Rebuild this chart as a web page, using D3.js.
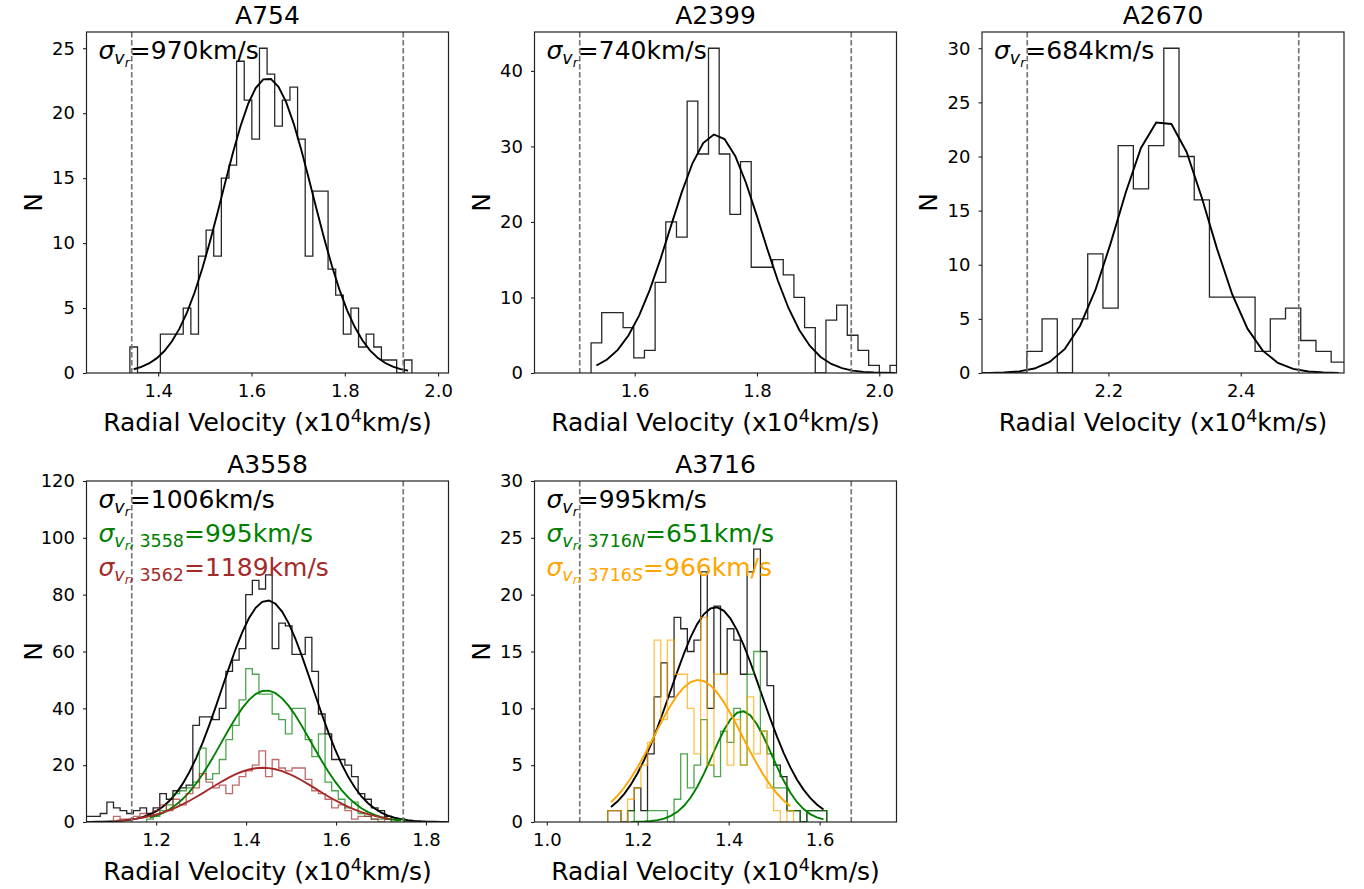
<!DOCTYPE html>
<html>
<head>
<meta charset="utf-8">
<script src="https://cdn.jsdelivr.net/npm/d3@7"></script>
<style>
  body { margin: 0; background: #fff; }
  svg text { font-family: "DejaVu Sans", sans-serif; }
</style>
</head>
<body>
<svg id="chart" width="1364" height="889"></svg>
<script>
// velocities are in units of 10^4 km/s

const clusters = ["A754", "A2399", "A2670", "A3558", "A3716"];
const sigmaKms = [970, 740, 684, 1006, 995];
const meanV = [1.6343, 1.7322, 2.2825, 1.4476, 1.371];
const peakN = [22.7, 31.6, 23.4, 78, 18.9];
const yMax = [26.25, 45.15, 31.5, 120, 30];
const yTicks = [
    [0, 5, 10, 15, 20, 25],
    [0, 10, 20, 30, 40],
    [0, 5, 10, 15, 20, 25, 30],
    [0, 20, 40, 60, 80, 100, 120],
    [0, 5, 10, 15, 20, 25, 30]
];
const xTicks = [
    [1.4, 1.6, 1.8, 2.0],
    [1.6, 1.8, 2.0],
    [2.2, 2.4],
    [1.2, 1.4, 1.6, 1.8],
    [1.0, 1.2, 1.4, 1.6]
];

// histogram bins: first edge + width for each cluster
const binStart = [1.3393, 1.5287, 1.9847, 1.0317, 1.1339];
const binWidth = [0.01634, 0.01746, 0.0230, 0.0147, 0.0146];

const a754Counts = [2, 0, 0, 0, 3, 3, 3, 5, 3, 9, 11, 9, 15, 16, 24, 21, 18, 25, 23, 19, 21, 22, 18, 9,
    14, 14, 8, 6, 3, 5, 2, 3, 2, 1, 1, 0, 1];
const a2399Counts = [4, 8, 8, 6, 2, 3, 12, 20, 18, 36, 29, 43, 29, 21, 28, 14, 14, 15, 13, 10, 6, 0, 7, 9,
    5, 3, 1, 0, 1];
const a2670Counts = [1, 0, 0, 0, 2, 5, 0, 5, 11, 6, 21, 17, 21, 30, 20, 16, 7, 7, 7, 2, 5, 6, 3, 2, 1];
const a3558Counts = [2, 2, 2, 3, 7, 5, 4, 3, 4, 5, 3, 5, 10, 8, 11, 12, 13, 34, 37, 37, 36, 40, 53, 57,
    61, 80, 85, 82, 87, 61, 70, 69, 59, 59, 65, 53, 38, 31, 22, 22, 20, 16, 10, 8, 5, 4, 2, 1, 1,
    0, 0, 0, 0, 0, 0, 0];
const a3716Counts = [1, 1, 0, 1, 3, 1, 6, 11, 14, 11, 18, 17, 15, 16, 22, 10, 19, 13, 17, 16, 13, 22, 24,
    15, 12, 5, 4, 1, 1, 0, 1, 1, 1];

// sub-clusters (bins shared with parent, offset = index of first bin)
const a3558SubNames = ["3558", "3562"];
const a3558SubSigma = [995, 1189];
const a3558SubMean = [1.445, 1.437];
const a3558SubPeak = [46.3, 19.1];
const a3558SubOffset = [10, 5];
const a3558SubColor = ["green", "brown"];
const a3558GreenCounts = [1, 2, 4, 6, 10, 11, 12, 14, 26, 15, 17, 22, 29, 34, 43, 54, 52, 45, 45, 38, 36,
    31, 40, 40, 29, 23, 31, 14, 11, 8, 5, 7, 3, 2, 1, 1, 1, 0, 1];
const a3558RedCounts = [2, 1, 1, 2, 3, 2, 4, 6, 4, 8, 6, 10, 12, 17, 14, 12, 13, 10, 13, 16, 18, 20, 25,
    16, 22, 19, 18, 19, 19, 15, 11, 10, 8, 5, 6, 4, 1, 2, 2, 1, 0, 1];

const a3716SubNames = ["3716N", "3716S"];
const a3716SubSigma = [651, 966];
const a3716SubMean = [1.4295, 1.333];
const a3716SubPeak = [9.75, 12.5];
const a3716SubOffset = [3, 0];
const a3716SubColor = ["green", "orange"];
const a3716GreenCounts = [1, 0, 0, 1, 1, 1, 0, 2, 6, 3, 5, 9, 5, 4, 8, 7, 10, 5, 13, 15, 8, 6, 3, 3, 1,
    1, 0, 1, 1, 1];
const a3716OrangeCounts = [1, 1, 0, 2, 3, 5, 7, 16, 9, 16, 13, 13, 10, 6, 18, 5, 13, 13, 5, 9, 5, 11, 6,
    8, 3, 1, 0, 1];

// ---- build panel descriptions ----
const mainCounts = [a754Counts, a2399Counts, a2670Counts, a3558Counts, a3716Counts];
const subCounts = { 3: [a3558GreenCounts, a3558RedCounts], 4: [a3716GreenCounts, a3716OrangeCounts] };
const subInfo = {
    3: { names: a3558SubNames, sigma: a3558SubSigma, mean: a3558SubMean, peak: a3558SubPeak, offset: a3558SubOffset, color: a3558SubColor },
    4: { names: a3716SubNames, sigma: a3716SubSigma, mean: a3716SubMean, peak: a3716SubPeak, offset: a3716SubOffset, color: a3716SubColor }
};

const panels = clusters.map((name, i) => {
    const sets = [{ counts: mainCounts[i], offset: 0, color: "black", mu: meanV[i], sigma: sigmaKms[i] / 1e4, amp: peakN[i] }];
    const labels = [{ sub: null, kms: sigmaKms[i], color: "black" }];
    if (subInfo[i]) {
        const s = subInfo[i];
        s.names.forEach((n, k) => {
            sets.push({ counts: subCounts[i][k], offset: s.offset[k], color: s.color[k], mu: s.mean[k], sigma: s.sigma[k] / 1e4, amp: s.peak[k] });
            labels.push({ sub: n, kms: s.sigma[k], color: s.color[k] });
        });
    }
    return { name, i, sets, labels };
});

// ---- layout ----
const svg = d3.select("#chart");
const colX = [86.5, 534.5, 982];
const rowY = [32, 481];
const pw = 362, ph = 341;

function sigmaText(g, x, y, sub, kms, color) {
    const t = g.append("text").attr("x", x).attr("y", y).attr("fill", color).style("font-size", "25px");
    t.append("tspan").text("σ").style("font-style", "italic");
    t.append("tspan").text("v").style("font-style", "italic").style("font-size", "17.5px").attr("dy", 5);
    t.append("tspan").text("r").style("font-style", "italic").style("font-size", "12.5px").attr("dy", 3);
    let back = 8;
    if (sub) {
        t.append("tspan").text(",").style("font-style", "italic").style("font-size", "17.5px").attr("dy", -3);
        back = 5;
        const m = sub.match(/^(\d+)(\D*)$/);
        t.append("tspan").text(m[1]).style("font-size", "17.5px").attr("dx", 4);
        if (m[2]) t.append("tspan").text(m[2]).style("font-style", "italic").style("font-size", "17.5px");
    }
    t.append("tspan").text("=" + kms + "km/s").style("font-size", "25px").attr("dy", -back);
}

panels.forEach(p => {
    const i = p.i;
    const x0 = colX[i % 3], y0 = rowY[Math.floor(i / 3)];
    const mu = meanV[i], sg = sigmaKms[i] / 1e4;

    const x = d3.scaleLinear().domain([mu - 4 * sg, mu + 4 * sg]).range([0, pw]);
    const y = d3.scaleLinear().domain([0, yMax[i]]).range([ph, 0]);

    const g = svg.append("g").attr("transform", `translate(${x0},${y0})`);

    svg.append("clipPath").attr("id", "clip" + i)
        .append("rect").attr("width", pw).attr("height", ph);

    const plot = g.append("g").attr("clip-path", `url(#clip${i})`);
    const line = d3.line().x(d => x(d[0])).y(d => y(d[1]));

    p.sets.forEach(s => {
        const w = binWidth[i];
        const e0 = binStart[i] + s.offset * w;
        const pts = [[e0, 0]];
        s.counts.forEach((c, j) => {
            pts.push([e0 + j * w, c], [e0 + (j + 1) * w, c]);
        });
        pts.push([e0 + s.counts.length * w, 0]);

        plot.append("path")
            .attr("d", line(pts))
            .attr("fill", "none")
            .attr("stroke", s.color)
            .attr("stroke-opacity", s.color === "black" ? 0.85 : 0.7)
            .attr("stroke-width", 1.3);

        const curve = s.counts.map((c, j) => {
            const v = e0 + (j + 0.5) * w;
            return [v, s.amp * Math.exp(-0.5 * Math.pow((v - s.mu) / s.sigma, 2))];
        });
        plot.append("path")
            .attr("d", line(curve))
            .attr("fill", "none")
            .attr("stroke", s.color)
            .attr("stroke-width", 1.9);
    });

    // 3 sigma clipping limits
    [mu - 3 * sg, mu + 3 * sg].forEach(v => {
        plot.append("line")
            .attr("x1", x(v)).attr("x2", x(v))
            .attr("y1", 0).attr("y2", ph)
            .attr("stroke", "#777")
            .attr("stroke-width", 1.7)
            .attr("stroke-dasharray", "5.5,2.5");
    });

    // axes
    const xAxis = g.append("g").attr("transform", `translate(0,${ph})`)
        .call(d3.axisBottom(x).tickValues(xTicks[i]).tickFormat(d3.format(".1f"))
            .tickSize(3.5).tickSizeOuter(0).tickPadding(8));
    const yAxis = g.append("g")
        .call(d3.axisLeft(y).tickValues(yTicks[i]).tickFormat(d3.format("d"))
            .tickSize(3.5).tickSizeOuter(0).tickPadding(8));
    [xAxis, yAxis].forEach(a => {
        a.select(".domain").remove();
        a.selectAll("line").attr("stroke", "#222").attr("stroke-width", 1.1);
        a.selectAll("text").style("font-size", "18px").attr("fill", "#000")
            .style("font-family", "'DejaVu Sans', sans-serif");
    });

    g.append("rect").attr("width", pw).attr("height", ph)
        .attr("fill", "none").attr("stroke", "#222").attr("stroke-width", 1.2);

    // title and labels
    g.append("text").attr("x", pw / 2).attr("y", -8)
        .attr("text-anchor", "middle").style("font-size", "25px").text(p.name);

    const xl = g.append("text").attr("x", pw / 2).attr("y", ph + 58)
        .attr("text-anchor", "middle").style("font-size", "25px");
    xl.append("tspan").text("Radial Velocity (x10");
    xl.append("tspan").text("4").style("font-size", "17.5px").attr("dy", -9);
    xl.append("tspan").text("km/s)").attr("dy", 9);

    g.append("text")
        .attr("transform", `translate(-45,${ph / 2}) rotate(-90)`)
        .attr("text-anchor", "middle").style("font-size", "25px").text("N");

    p.labels.forEach((l, k) => {
        sigmaText(g, 12, 27 + k * 34, l.sub, l.kms, l.color);
    });
});
</script>
</body>
</html>
